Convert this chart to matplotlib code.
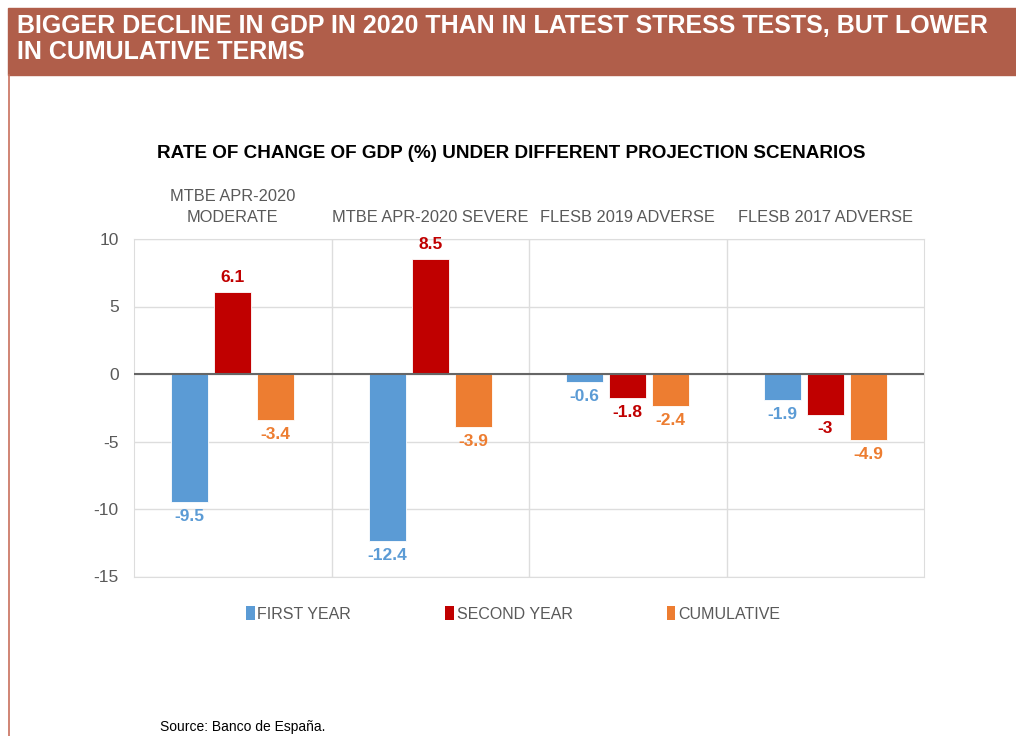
import matplotlib
matplotlib.use('Agg')
import matplotlib.pyplot as plt
from matplotlib.patches import Rectangle, Patch
from matplotlib.lines import Line2D
import numpy as np

# data
categories = ['MTBE APR-2020\nMODERATE', 'MTBE APR-2020 SEVERE', 'FLESB 2019 ADVERSE', 'FLESB 2017 ADVERSE']
first_year = [-9.5, -12.4, -0.6, -1.9]
second_year = [6.1, 8.5, -1.8, -3.0]
cumulative = [-3.4, -3.9, -2.4, -4.9]
value_labels = {
    'first': ['-9.5', '-12.4', '-0.6', '-1.9'],
    'second': ['6.1', '8.5', '-1.8', '-3'],
    'cum': ['-3.4', '-3.9', '-2.4', '-4.9'],
}
series_names = ['FIRST YEAR', 'SECOND YEAR', 'CUMULATIVE']
y_ticks = [10, 5, 0, -5, -10, -15]

# style
plt.rcParams['font.family'] = ['Liberation Sans', 'DejaVu Sans']
c_blue = '#5B9BD5'
c_red = '#C00000'
c_orange = '#ED7D31'
c_head = '#B05E4A'
c_tick = '#595959'
c_grid = '#DDDDDD'

fig = plt.figure(figsize=(10.16, 7.36), dpi=100)

# header band and left border
fig.patches.append(Rectangle((8 / 1016, 661 / 736), 1 - 8 / 1016, 67 / 736,
                             transform=fig.transFigure, color=c_head, zorder=0))
fig.lines.append(Line2D([9 / 1016, 9 / 1016], [0, 661 / 736], transform=fig.transFigure,
                        color='#C8705C', lw=1.2))
fig.text(17 / 1016, 710 / 736, 'BIGGER DECLINE IN GDP IN 2020 THAN IN LATEST STRESS TESTS, BUT LOWER',
         color='white', fontsize=18, fontweight='bold', va='center', ha='left')
fig.text(17 / 1016, 684 / 736, 'IN CUMULATIVE TERMS',
         color='white', fontsize=18, fontweight='bold', va='center', ha='left')

# chart title
fig.text(511 / 1016, 583 / 736, 'RATE OF CHANGE OF GDP (%) UNDER DIFFERENT PROJECTION SCENARIOS',
         fontsize=13.6, fontweight='bold', ha='center', va='center', color='black')

ax = fig.add_axes([134 / 1016, 159.5 / 736, 790 / 1016, 337.5 / 736])

x = np.arange(len(categories))
w = 0.188
off = 0.218
series = [(first_year, c_blue, value_labels['first']),
          (second_year, c_red, value_labels['second']),
          (cumulative, c_orange, value_labels['cum'])]
for k, (vals, col, labs) in enumerate(series):
    xs = x + (k - 1) * off
    ax.bar(xs, vals, width=w, color=col, edgecolor='white', linewidth=0.6, zorder=3)
    for xi, v, lab in zip(xs, vals, labs):
        if v >= 0:
            ax.annotate(lab, (xi, v), xytext=(0, 5), textcoords='offset points',
                        ha='center', va='bottom', color=col, fontsize=12.5, fontweight='bold')
        else:
            ax.annotate(lab, (xi, v), xytext=(0, -5), textcoords='offset points',
                        ha='center', va='top', color=col, fontsize=12.5, fontweight='bold')

ax.set_xlim(-0.5, 3.5)
ax.set_ylim(-15, 10)
ax.set_yticks(y_ticks)
ax.set_yticklabels([str(t) for t in y_ticks])
ax.tick_params(axis='y', length=0, pad=11, labelsize=12.5, labelcolor=c_tick)

ax.set_xticks(x)
ax.set_xticklabels(categories, linespacing=1.55)
ax.xaxis.tick_top()
ax.tick_params(axis='x', length=0, pad=10, labelsize=11.8, labelcolor=c_tick)

# grid
for t in y_ticks:
    ax.axhline(t, color=c_grid, lw=1, zorder=1)
for s in [0.5, 1.5, 2.5]:
    ax.axvline(s, color=c_grid, lw=1, zorder=1)
ax.axhline(0, color='#666666', lw=1.5, zorder=4)
for sp in ax.spines.values():
    sp.set_color(c_grid)

# legend
handles = [Patch(facecolor=c, edgecolor='none') for c in [c_blue, c_red, c_orange]]
leg = fig.legend(handles, series_names, loc='center', bbox_to_anchor=(513 / 1016, 122 / 736),
                 ncol=3, frameon=False, fontsize=11.5, handlelength=0.55, handleheight=0.9,
                 handletextpad=0.15, columnspacing=5.9)
for t in leg.get_texts():
    t.set_color(c_tick)

# source
fig.text(160 / 1016, 9 / 736, 'Source: Banco de España.', fontsize=10, ha='left', va='center')

fig.savefig('out.png', dpi=100)
